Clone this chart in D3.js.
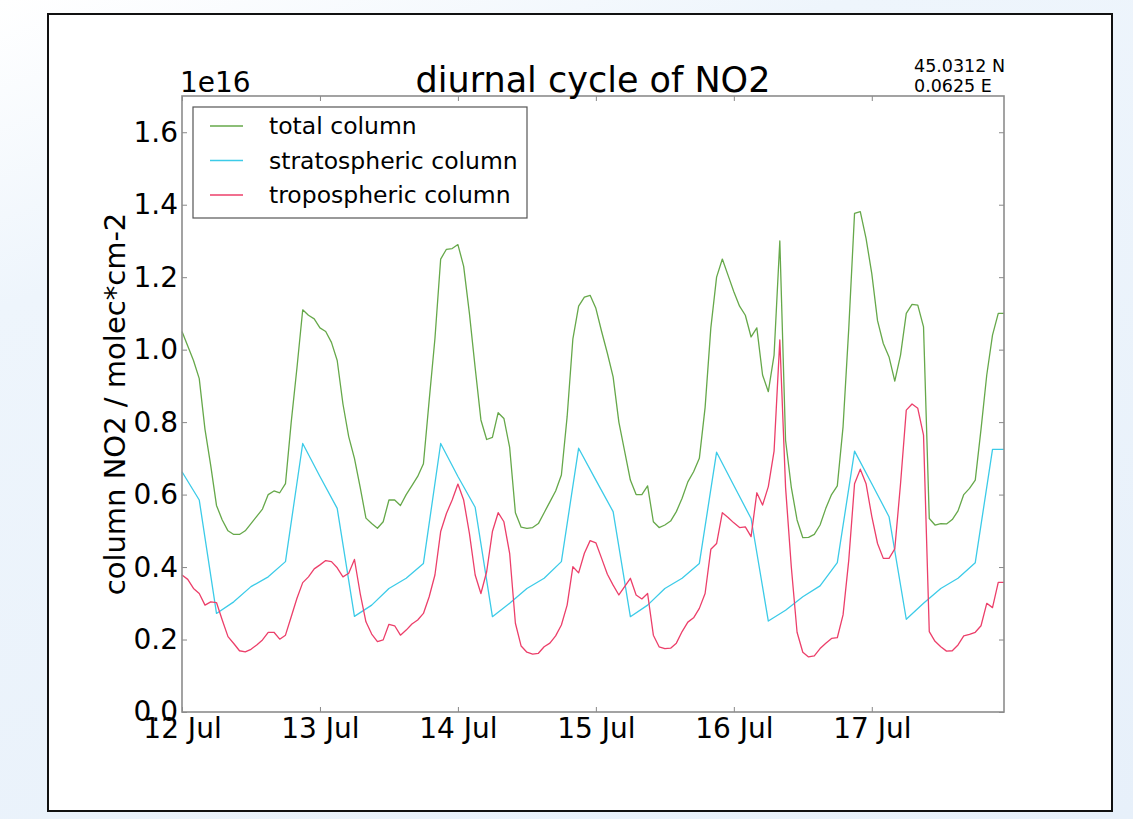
<!DOCTYPE html>
<html>
<head>
<meta charset="utf-8">
<script src="https://cdn.jsdelivr.net/npm/d3@7"></script>
<style>
  body { margin: 0; width: 1133px; height: 819px; overflow: hidden;
         background: linear-gradient(160deg, #ffffff 0%, #eef5fc 25%, #e7f0fa 100%);
         font-family: "DejaVu Sans", sans-serif; }
  .axis text { font-family: "DejaVu Sans", sans-serif; fill: #000; }
</style>
</head>
<body>
<svg id="chart" width="1133" height="819"></svg>
<script>
// data, hourly from 12 Jul 00 UTC
var startTime = "2015-07-12T00:00:00Z";
var dayTicks = ["2015-07-12", "2015-07-13", "2015-07-14", "2015-07-15", "2015-07-16", "2015-07-17"];
var yTicks = [0.0, 0.2, 0.4, 0.6, 0.8, 1.0, 1.2, 1.4, 1.6];
var seriesNames = ["total column", "stratospheric column", "tropospheric column"];
var seriesColors = ["#66a84a", "#3ccbe8", "#ec3f6a"];

var totalColumn = [
  1.05, 1.01, 0.97, 0.92, 0.78, 0.68, 0.57, 0.53, 0.50, 0.49,
  0.49, 0.50, 0.52, 0.54, 0.56, 0.60, 0.61, 0.605, 0.63, 0.80,
  0.95, 1.11, 1.095, 1.085, 1.06, 1.05, 1.02, 0.97, 0.85, 0.76,
  0.70, 0.62, 0.535, 0.52, 0.507, 0.525, 0.585, 0.585, 0.57, 0.60,
  0.625, 0.65, 0.685, 0.86, 1.03, 1.25, 1.277, 1.279, 1.29, 1.23,
  1.10, 0.95, 0.806, 0.752, 0.758, 0.826, 0.81, 0.73, 0.55, 0.51,
  0.507, 0.509, 0.52, 0.55, 0.58, 0.61, 0.654, 0.815, 1.03, 1.12,
  1.145, 1.15, 1.114, 1.05, 0.99, 0.925, 0.80, 0.72, 0.64, 0.60,
  0.60, 0.624, 0.525, 0.509, 0.516, 0.527, 0.553, 0.59, 0.635, 0.663,
  0.70, 0.84, 1.06, 1.20, 1.25, 1.205, 1.16, 1.12, 1.095, 1.035,
  1.06, 0.93, 0.884, 0.985, 1.30, 0.75, 0.62, 0.53, 0.481, 0.482,
  0.49, 0.516, 0.562, 0.60, 0.624, 0.787, 1.06, 1.376, 1.381, 1.307,
  1.21, 1.08, 1.017, 0.98, 0.913, 0.985, 1.10, 1.125, 1.123, 1.063,
  0.534, 0.516, 0.52, 0.519, 0.531, 0.555, 0.60, 0.617, 0.64, 0.78,
  0.93, 1.04, 1.10, 1.10
];

// stratospheric column is 3-hourly
var stratHours = [0, 3, 6, 9, 12, 15, 18, 21, 24, 27, 30, 33, 36, 39, 42, 45, 48, 51,
  54, 57, 60, 63, 66, 69, 72, 75, 78, 81, 84, 87, 90, 93, 96, 99, 102, 105, 108, 111,
  114, 117, 120, 123, 126, 129, 132, 135, 138, 141, 143];
var stratColumn = [
  0.663, 0.585, 0.272, 0.304, 0.346, 0.373, 0.415, 0.741, 0.65, 0.562,
  0.264, 0.295, 0.341, 0.369, 0.410, 0.741, 0.65, 0.565,
  0.263, 0.300, 0.341, 0.369, 0.415, 0.728, 0.64, 0.553,
  0.263, 0.295, 0.341, 0.369, 0.410, 0.717, 0.625, 0.534,
  0.251, 0.281, 0.318, 0.348, 0.412, 0.720, 0.63, 0.539,
  0.256, 0.300, 0.341, 0.369, 0.412, 0.725,
  0.725
];

var tropColumn = [
  0.378, 0.366, 0.341, 0.327, 0.295, 0.304, 0.302, 0.254, 0.208, 0.189,
  0.169, 0.166, 0.173, 0.185, 0.199, 0.220, 0.220, 0.201, 0.212, 0.263,
  0.314, 0.357, 0.373, 0.395, 0.406, 0.418, 0.415, 0.398, 0.373, 0.383,
  0.421, 0.327, 0.249, 0.215, 0.194, 0.199, 0.242, 0.238, 0.212, 0.226,
  0.243, 0.254, 0.272, 0.318, 0.378, 0.498, 0.548, 0.585, 0.629, 0.585,
  0.493, 0.378, 0.327, 0.387, 0.498, 0.550, 0.525, 0.438, 0.245, 0.182,
  0.165, 0.160, 0.162, 0.180, 0.19, 0.21, 0.24, 0.295, 0.401, 0.384,
  0.438, 0.473, 0.467, 0.424, 0.38, 0.35, 0.323, 0.346, 0.369, 0.323,
  0.312, 0.327, 0.212, 0.180, 0.175, 0.176, 0.19, 0.222, 0.248, 0.260,
  0.286, 0.327, 0.449, 0.465, 0.550, 0.537, 0.522, 0.509, 0.511, 0.484,
  0.605, 0.571, 0.622, 0.72, 1.027, 0.62, 0.40, 0.22, 0.165, 0.152,
  0.155, 0.175, 0.19, 0.203, 0.205, 0.268, 0.42, 0.63, 0.67, 0.63,
  0.54, 0.465, 0.424, 0.424, 0.45, 0.63, 0.833, 0.850, 0.838, 0.764,
  0.222, 0.195, 0.18, 0.168, 0.169, 0.185, 0.21, 0.214, 0.22, 0.238,
  0.30, 0.288, 0.358, 0.358
];

var svg = d3.select("#chart");
var margin = {"left": 182, "right": 129, "top": 96, "bottom": 107};
var width = 1133 - margin.left - margin.right;
var height = 819 - margin.top - margin.bottom;

var t0 = new Date(startTime);
function hourDate(h) { return d3.utcHour.offset(t0, h); }

var totalPts = totalColumn.map(function(v, i) { return {t: hourDate(i), v: v}; });
var tropPts = tropColumn.map(function(v, i) { return {t: hourDate(i), v: v}; });
var stratPts = stratColumn.map(function(v, i) { return {t: hourDate(stratHours[i]), v: v}; });

// outer figure frame
svg.append("rect")
   .attr("x", 48).attr("y", 14).attr("width", 1064).attr("height", 797)
   .attr("fill", "#fff").attr("stroke", "#111").attr("stroke-width", 2);

var xScale = d3.scaleUtc()
               .domain([t0, hourDate(totalColumn.length - 1)])
               .range([0, width]);
var yScale = d3.scaleLinear()
               .domain([0, 1.7])
               .range([height, 0]);

var g = svg.append("g").attr("transform", "translate(" + margin.left + "," + margin.top + ")");

var tickDates = dayTicks.map(function(d) { return new Date(d + "T00:00:00Z"); });
var fmt = d3.utcFormat("%d %b");

var xAxis = d3.axisBottom(xScale).tickValues(tickDates).tickFormat(fmt)
              .tickSizeInner(-5).tickSizeOuter(0).tickPadding(6);
var xAxisTop = d3.axisTop(xScale).tickValues(tickDates).tickFormat("")
                 .tickSizeInner(-5).tickSizeOuter(0);
var yAxis = d3.axisLeft(yScale).tickValues(yTicks).tickFormat(d3.format(".1f"))
              .tickSizeInner(-5).tickSizeOuter(0).tickPadding(4);
var yAxisRight = d3.axisRight(yScale).tickValues(yTicks).tickFormat("")
                   .tickSizeInner(-5).tickSizeOuter(0);

function styleAxis(sel) {
  sel.select(".domain").remove();
  sel.selectAll("line").attr("stroke", "#888");
  sel.selectAll("text").style("font-size", "28px");
}

g.append("g").classed("axis", true).attr("transform", "translate(0," + height + ")").call(xAxis).call(styleAxis);
g.append("g").classed("axis", true).call(xAxisTop).call(styleAxis);
g.append("g").classed("axis", true).call(yAxis).call(styleAxis);
g.append("g").classed("axis", true).attr("transform", "translate(" + width + ",0)").call(yAxisRight).call(styleAxis);

var line = d3.line()
             .x(function(d) { return xScale(d.t); })
             .y(function(d) { return yScale(d.v); });

var series = [totalPts, stratPts, tropPts];
series.forEach(function(pts, i) {
  g.append("path").datum(pts)
   .attr("d", line)
   .attr("fill", "none")
   .attr("stroke", seriesColors[i])
   .attr("stroke-width", 1.3)
   .attr("stroke-linejoin", "round");
});

// axes frame
g.append("rect").attr("width", width).attr("height", height)
 .attr("fill", "none").attr("stroke", "#8c8c8c").attr("stroke-width", 1.6);

// legend
var legend = g.append("g").attr("transform", "translate(11,11)");
legend.append("rect").attr("width", 334).attr("height", 111)
      .attr("fill", "#fff").attr("stroke", "#555").attr("stroke-width", 1.2);
seriesNames.forEach(function(name, i) {
  var yy = 19 + i * 34.5;
  legend.append("line").attr("x1", 17).attr("x2", 50).attr("y1", yy).attr("y2", yy)
        .attr("stroke", seriesColors[i]).attr("stroke-width", 1.3);
  legend.append("text").attr("x", 76).attr("y", yy).attr("dy", "0.35em")
        .style("font-size", "23.5px").text(name);
});

// title, offset and location
svg.append("text").attr("x", margin.left + width / 2).attr("y", 92)
   .attr("text-anchor", "middle").style("font-size", "35px").text("diurnal cycle of NO2");
svg.append("text").attr("x", 180).attr("y", 92).style("font-size", "28px").text("1e16");
svg.append("text").attr("x", 914).attr("y", 72).style("font-size", "17.5px").text("45.0312 N");
svg.append("text").attr("x", 914).attr("y", 92).style("font-size", "17.5px").text("0.0625 E");

svg.append("text")
   .attr("transform", "translate(125," + (margin.top + height / 2) + ") rotate(-90)")
   .attr("text-anchor", "middle").style("font-size", "29px")
   .text("column NO2 / molec*cm-2");
</script>
</body>
</html>
